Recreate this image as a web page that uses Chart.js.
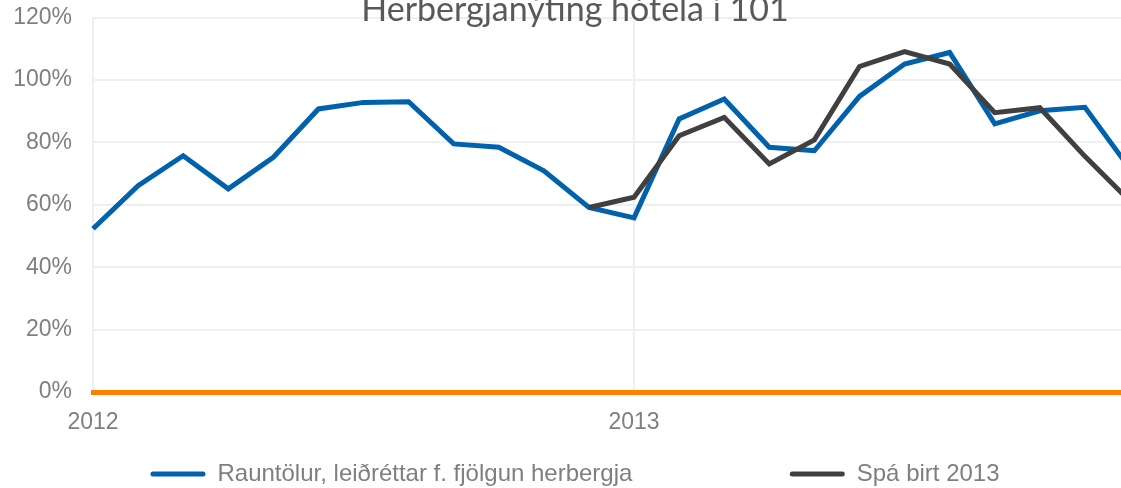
<!DOCTYPE html>
<html>
<head>
<meta charset="utf-8">
<script src="https://cdn.jsdelivr.net/npm/chart.js@4"></script>
<style>
  html, body { margin: 0; padding: 0; overflow: hidden; background: #fff; }
  #wrap { width: 1150px; height: 496px; }
</style>
</head>
<body>
<div id="wrap"><canvas id="myChart"></canvas></div>
<script>
// monthly, Jan 2012 - Dec 2013
var months = ['2012-01','2012-02','2012-03','2012-04','2012-05','2012-06',
              '2012-07','2012-08','2012-09','2012-10','2012-11','2012-12',
              '2013-01','2013-02','2013-03','2013-04','2013-05','2013-06',
              '2013-07','2013-08','2013-09','2013-10','2013-11','2013-12'];
var yearLabels = ['2012', '2013'];

// occupancy, %
var actual = [52.3, 66.1, 75.7, 65.1, 75.2, 90.7, 92.8, 93.0, 79.5, 78.4, 70.9, 59.1,
              55.8, 87.5, 93.9, 78.4, 77.3, 94.7, 105.1, 108.8, 85.9, 90.1, 91.2, 71.5];
var forecast = [null, null, null, null, null, null, null, null, null, null, null, 59.1,
                62.4, 82.1, 88.0, 73.1, 80.8, 104.3, 109.1, 105.1, 89.5, 91.1, 75.5, 61.1];

var yTicks = [0, 20, 40, 60, 80, 100, 120];
var titleText = 'Herbergjanýting hótela í 101';

var gray = '#7f7f7f';
var gridCol = '#efefef';

// title sits partly over the plot, so draw it by hand
var titlePlugin = {
  id: 'overTitle',
  afterDraw: function(chart) {
    var c = chart.ctx;
    c.save();
    c.font = '34px Lato';
    c.fillStyle = '#595959';
    c.textAlign = 'center';
    c.textBaseline = 'alphabetic';
    c.fillText(titleText, chart.width / 2, 21);
    c.restore();
  }
};

var ctx = document.getElementById('myChart').getContext('2d');
var myChart = new Chart(ctx, {
  type: 'line',
  data: {
    labels: months,
    datasets: [{
        label: 'Rauntölur, leiðréttar f. fjölgun herbergja',
        data: actual,
        borderColor: '#0061ad',
        backgroundColor: '#0061ad',
        borderWidth: 5,
        pointRadius: 0,
        tension: 0,
        order: 2
      }, {
        label: 'Spá birt 2013',
        data: forecast,
        borderColor: '#404040',
        backgroundColor: '#404040',
        borderWidth: 5,
        pointRadius: 0,
        tension: 0,
        order: 1
      }
    ]
  },
  plugins: [titlePlugin],
  options: {
    responsive: true,
    maintainAspectRatio: false,
    animation: false,
    layout: { padding: { left: 0, right: 0, top: 17.5, bottom: 0 } },
    plugins: {
      tooltip: { enabled: false },
      title: { display: false },
      legend: {
        position: 'bottom',
        labels: {
          color: gray,
          font: { family: 'Liberation Sans', size: 24 },
          boxWidth: 55,
          boxHeight: 5,
          useBorderRadius: true,
          borderRadius: 2.5,
          padding: 4,
          sort: function(a, b) { return a.datasetIndex - b.datasetIndex; },
          generateLabels: function(chart) {
            var items = Chart.defaults.plugins.legend.labels.generateLabels(chart);
            items.forEach(function(it) {
              it.lineWidth = 0;
              if (it.datasetIndex === 0) it.text += ' '.repeat(23);
            });
            return items;
          }
        }
      }
    },
    scales: {
      x: {
        afterFit: function(s) { s.height = 66; },
        grid: { color: gridCol, lineWidth: 2, drawTicks: false },
        border: { display: true, color: '#ff7f00', width: 5 },
        ticks: {
          color: gray,
          font: { family: 'Liberation Sans', size: 23 },
          padding: 17,
          autoSkip: false,
          maxRotation: 0,
          callback: function(v, i) {
            var m = months[i];
            for (var k = 0; k < yearLabels.length; k++) {
              if (m === yearLabels[k] + '-01') return yearLabels[k];
            }
            return null;
          }
        }
      },
      y: {
        min: 0,
        max: 120,
        afterFit: function(s) { s.width = 93; },
        afterBuildTicks: function(s) { s.ticks = yTicks.map(function(v) { return { value: v }; }); },
        // gap to the labels via invisible tick marks, so it does not pad the top
        grid: { color: gridCol, lineWidth: 2, drawTicks: true, tickLength: 21, tickColor: 'rgba(0,0,0,0)' },
        border: { display: false },
        ticks: {
          color: gray,
          font: { family: 'Liberation Sans', size: 23 },
          padding: 0,
          callback: function(v) { return v + '%'; }
        }
      },
      // empty right margin so the legend centres like the original
      yPad: {
        position: 'right',
        min: 0,
        max: 1,
        afterFit: function(s) { s.width = 20; },
        grid: { display: false },
        border: { display: false },
        ticks: { display: false }
      }
    }
  }
});
</script>
</body>
</html>
